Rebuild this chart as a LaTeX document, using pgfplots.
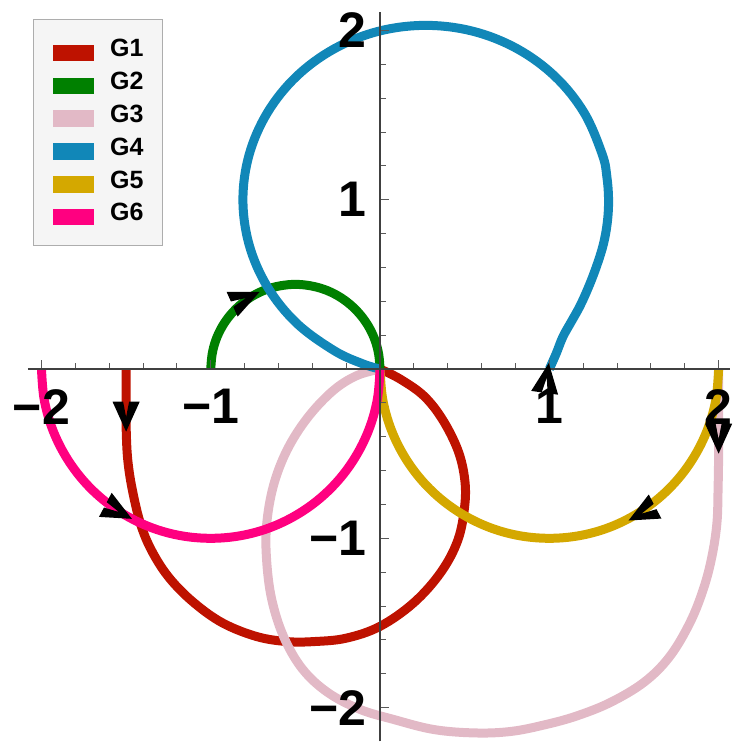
\documentclass[border=0pt]{standalone}
\usepackage{fontspec}
\setmainfont{Liberation Sans}
\usepackage{pgfplots}
\pgfplotsset{compat=1.18}

\definecolor{g1}{RGB}{190,18,0}
\definecolor{g2}{RGB}{0,128,0}
\definecolor{g3}{RGB}{226,185,198}
\definecolor{g4}{RGB}{17,135,184}
\definecolor{g5}{RGB}{212,168,0}
\definecolor{g6}{RGB}{255,0,128}

% notched arrow head, tip at the origin, pointing along +x
\pgfdeclareplotmark{head}{%
  \pgfpathmoveto{\pgfpoint{0pt}{0pt}}%
  \pgfpathlineto{\pgfpoint{-15pt}{6.8pt}}%
  \pgfpathlineto{\pgfpoint{-15pt}{1.5pt}}%
  \pgfpathlineto{\pgfpoint{-7.3pt}{0pt}}%
  \pgfpathlineto{\pgfpoint{-15pt}{-1.5pt}}%
  \pgfpathlineto{\pgfpoint{-15pt}{-6.8pt}}%
  \pgfpathclose
  \pgfusepathqfill}

\pgfplotsset{
  head/.style={only marks, mark=head, mark options={black, rotate=#1}, forget plot},
  curve/.style={line width=4.5pt, smooth, tension=0.6, forget plot},
}

\begin{document}
\begin{tikzpicture}
\begin{axis}[
  x=84.65pt, y=84.65pt,
  xmin=-2.08, xmax=2.07, ymin=-2.2, ymax=2.11,
  axis lines=middle,
  axis line style={-, black!75, line width=0.55pt},
  every inner x axis line/.append style={-},
  every inner y axis line/.append style={-},
  clip=false,
  axis on top,
  xtick={-2,-1,1,2}, xticklabels={−2,−1,1,2},
  ytick={-2,-1,1,2}, yticklabels={−2,−1,1,2},
  minor xtick={-1.8,-1.6,-1.4,-1.2,-0.8,-0.6,-0.4,-0.2,0.2,0.4,0.6,0.8,1.2,1.4,1.6,1.8},
  minor ytick={-1.8,-1.6,-1.4,-1.2,-0.8,-0.6,-0.4,-0.2,0.2,0.4,0.6,0.8,1.2,1.4,1.6,1.8},
  tick align=inside,
  major tick length=4.5pt, minor tick length=3pt,
  every tick/.style={black!65, line width=0.5pt},
  tick label style={font=\fontsize{25}{30}\selectfont\bfseries, inner sep=0pt},
  xticklabel style={anchor=north, yshift=-10pt},
  yticklabel style={anchor=east, xshift=-6.5pt},
  legend cell align=left,
  legend image code/.code={\fill[#1] (0pt,-6.25pt) rectangle (20pt,1.25pt);},
  legend style={at={(0.0072,0.9905)}, anchor=north west,
    draw=black!32, fill=black!4, line width=0.75pt,
    font=\fontsize{12.5}{15}\selectfont\bfseries,
    inner xsep=9.5pt, inner ysep=9.9pt,
    row sep=5.43pt, column sep=8pt,
    nodes={inner sep=0pt, text depth=0pt}},
]
\path (axis cs:-2.245,-2.20) rectangle (axis cs:2.07,2.18);

\addlegendimage{g1}\addlegendentry{G1}
\addlegendimage{g2}\addlegendentry{G2}
\addlegendimage{g3}\addlegendentry{G3}
\addlegendimage{g4}\addlegendentry{G4}
\addlegendimage{g5}\addlegendentry{G5}
\addlegendimage{g6}\addlegendentry{G6}

% G1
\addplot[g1, curve] coordinates {
(-1.50,0) (-1.50,-0.17) (-1.50,-0.34) (-1.49,-0.54) (-1.46,-0.73) (-1.41,-0.93)
(-1.34,-1.09) (-1.24,-1.24) (-1.10,-1.38) (-0.93,-1.50) (-0.73,-1.58) (-0.55,-1.61)
(-0.39,-1.61) (-0.20,-1.59) (0,-1.52) (0.20,-1.38) (0.36,-1.20) (0.46,-1.01)
(0.50,-0.81) (0.50,-0.65) (0.46,-0.48) (0.37,-0.30) (0.26,-0.16) (0.12,-0.06) (0,0)
};
\addplot[head=-90] coordinates {(-1.5,-0.37)};
% G2
\addplot[g2, curve] coordinates {
(-1,0) (-0.992,0.087) (-0.970,0.171) (-0.933,0.25) (-0.883,0.321) (-0.821,0.383)
(-0.75,0.433) (-0.671,0.470) (-0.587,0.492) (-0.5,0.5) (-0.413,0.492) (-0.329,0.470)
(-0.25,0.433) (-0.179,0.383) (-0.117,0.321) (-0.067,0.25) (-0.030,0.171) (-0.008,0.087) (0,0)
};
\addplot[head=24] coordinates {(-0.712,0.455)};
% G3
\addplot[g3, curve] coordinates {
(2,0) (2.0,-0.25) (2.0,-0.5) (1.997,-0.7) (1.99,-0.91) (1.96,-1.11) (1.91,-1.30)
(1.83,-1.50) (1.71,-1.70) (1.56,-1.85) (1.36,-1.97) (1.16,-2.05) (0.98,-2.10)
(0.78,-2.14) (0.57,-2.15) (0.32,-2.13) (0.08,-2.07) (-0.12,-2.01) (-0.31,-1.91)
(-0.46,-1.77) (-0.57,-1.58) (-0.64,-1.36) (-0.67,-1.13) (-0.67,-0.92) (-0.63,-0.69)
(-0.55,-0.48) (-0.43,-0.29) (-0.28,-0.13) (-0.14,-0.04) (0,0)
};
\addplot[head=-90] coordinates {(2.0,-0.50)};
% G4
\addplot[g4, curve] coordinates {
(1.0,0) (1.04,0.09) (1.08,0.19) (1.13,0.28) (1.18,0.37) (1.23,0.48) (1.28,0.61)
(1.32,0.74) (1.343,0.87) (1.35,1.0) (1.34,1.135) (1.313,1.267) (1.205,1.515) (1.034,1.728)
(0.81,1.892) (0.55,1.995) (0.27,2.03) (-0.01,1.995) (-0.27,1.892) (-0.494,1.728)
(-0.665,1.515) (-0.773,1.267) (-0.81,1.0) (-0.773,0.733) (-0.665,0.485)
(-0.494,0.272) (-0.27,0.108) (-0.10,0.03) (0,0)
};
\addplot[head=82] coordinates {(0.997,0.035)};
% G5
\addplot[g5, curve] coordinates {
(2,0) (1.985,-0.174) (1.940,-0.342) (1.866,-0.5) (1.766,-0.643) (1.643,-0.766)
(1.5,-0.866) (1.342,-0.940) (1.174,-0.985) (1,-1) (0.826,-0.985) (0.658,-0.940)
(0.5,-0.866) (0.357,-0.766) (0.234,-0.643) (0.134,-0.5) (0.060,-0.342) (0.015,-0.174) (0,0)
};
\addplot[head=207.8] coordinates {(1.468,-0.895)};
% G6
\addplot[g6, curve] coordinates {
(-2,0) (-1.985,-0.174) (-1.940,-0.342) (-1.866,-0.5) (-1.766,-0.643) (-1.643,-0.766)
(-1.5,-0.866) (-1.342,-0.940) (-1.174,-0.985) (-1,-1) (-0.826,-0.985) (-0.658,-0.940)
(-0.5,-0.866) (-0.357,-0.766) (-0.234,-0.643) (-0.134,-0.5) (-0.060,-0.342) (-0.015,-0.174) (0,0)
};
\addplot[head=-27.8] coordinates {(-1.466,-0.885)};
\end{axis}
\end{tikzpicture}
\end{document}
